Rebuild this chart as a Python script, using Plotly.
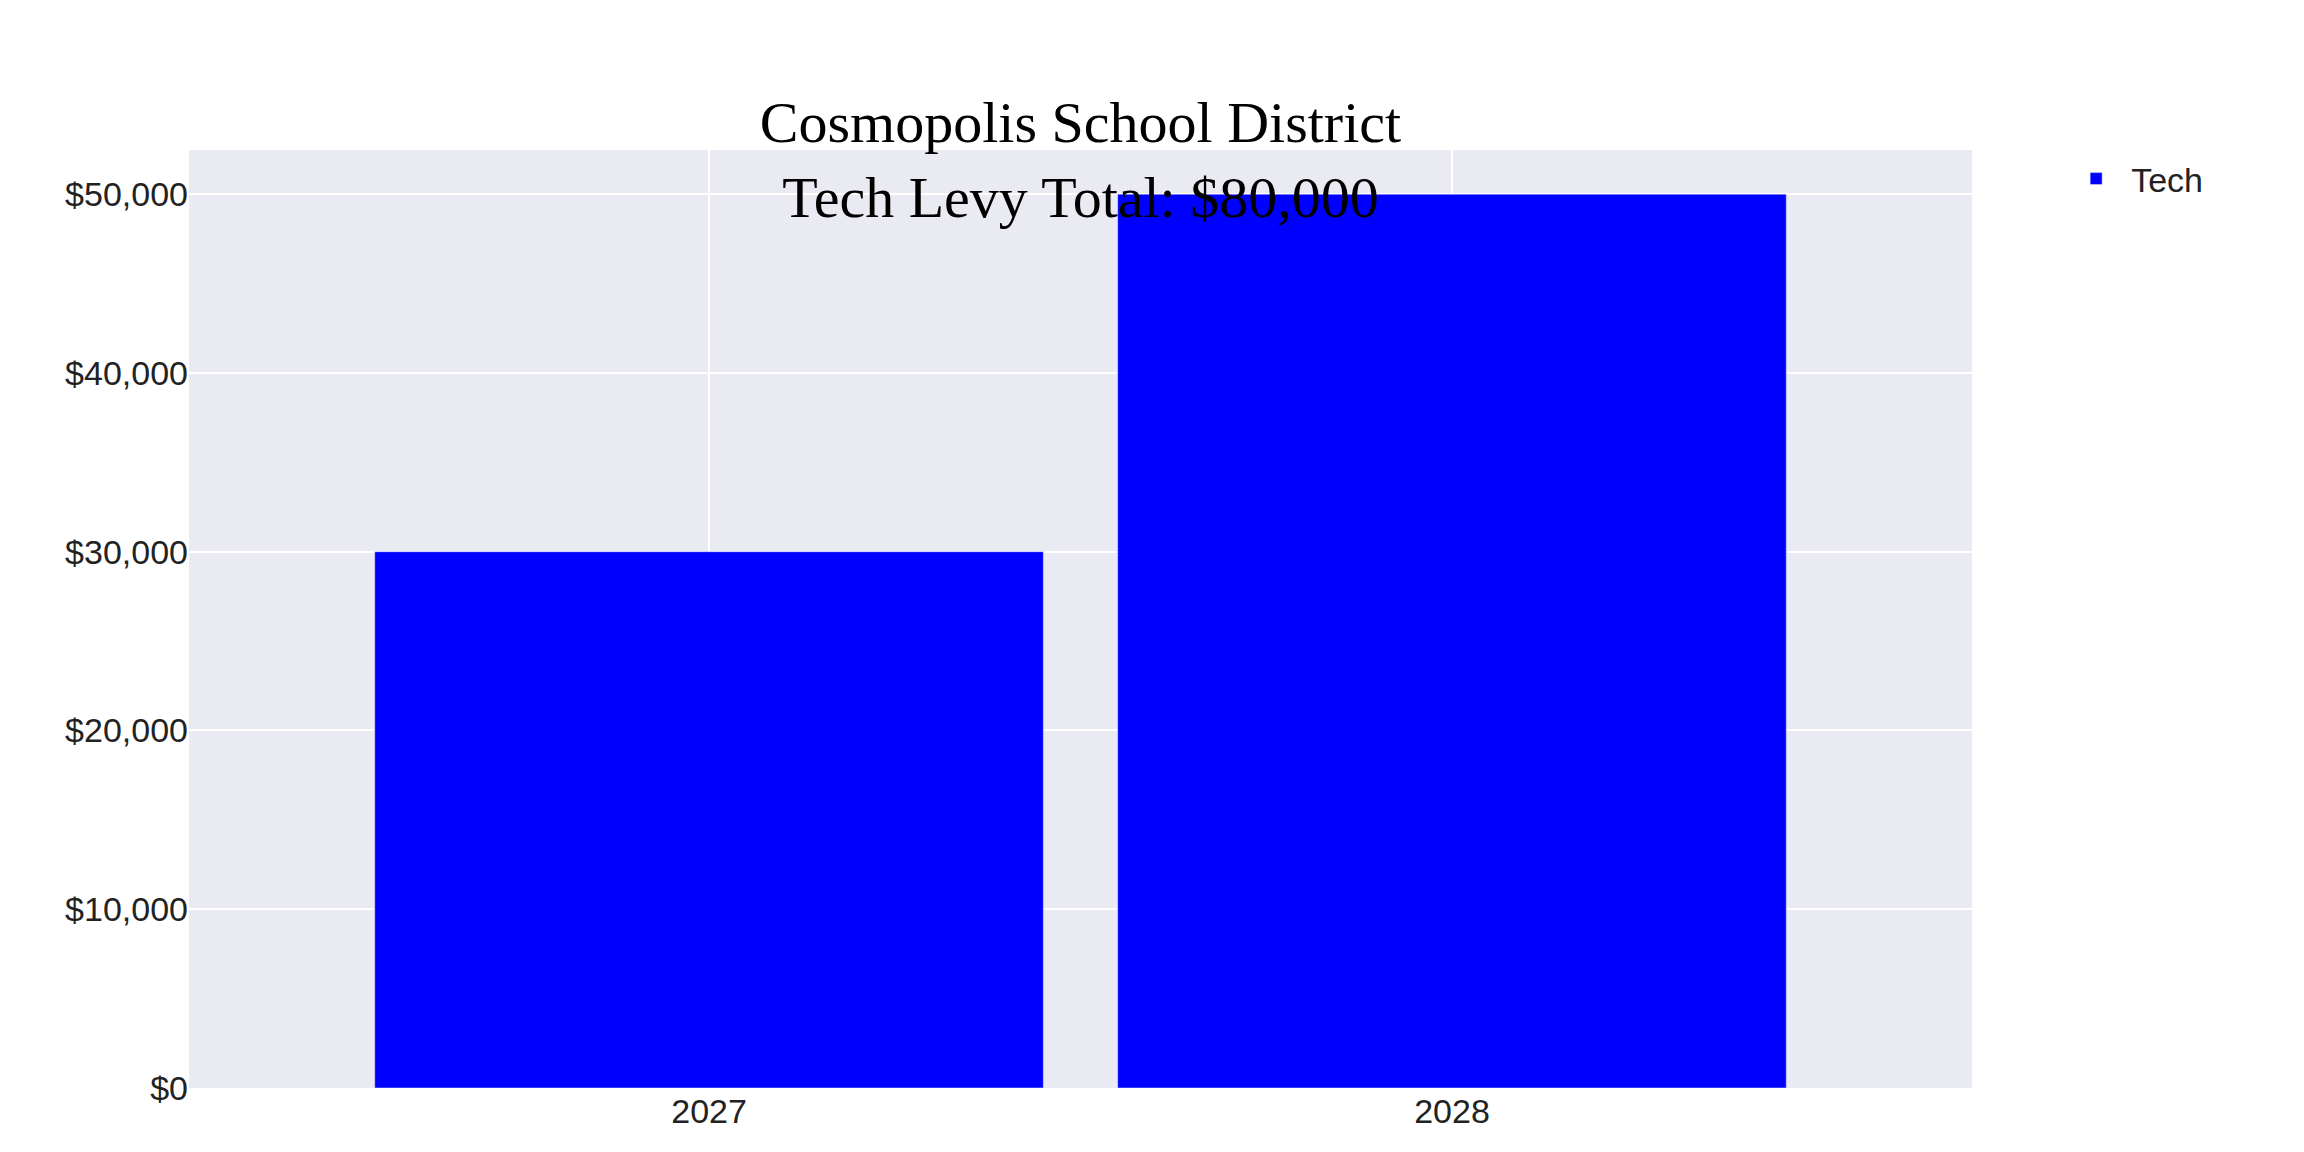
import plotly.graph_objects as go

years = ["2027", "2028"]
tech = [30000, 50000]
ytick_vals = [0, 10000, 20000, 30000, 40000, 50000]
ytick_text = ["$0", "$10,000", "$20,000", "$30,000", "$40,000", "$50,000"]

fig = go.Figure()
fig.add_trace(go.Bar(x=[0, 1], y=tech, name="Tech", marker_color="#0000FF", width=0.9))
fig.update_layout(
    width=2304, height=1152,
    paper_bgcolor="white", plot_bgcolor="#EAEAF2",
    margin=dict(l=181, r=340, t=142, b=72),
    title=dict(text="Cosmopolis School District<br>Tech Levy Total: $80,000", x=0.5, xref="paper",
               yref="paper", y=1.0, yanchor="bottom", pad=dict(b=8),
               font=dict(family="Liberation Serif, Times New Roman, serif", size=58, color="black")),
    font=dict(family="Liberation Sans, Arial, sans-serif", size=34, color="#222"),
    showlegend=True,
    legend=dict(x=1.05, y=1.0, xanchor="left", yanchor="top", font=dict(size=34), itemwidth=60),
    bargap=0.1,
)
fig.update_xaxes(tickvals=[0, 1], ticktext=years, range=[-0.7, 1.7], showgrid=True,
                 gridcolor="white", gridwidth=2, zeroline=False, ticks="")
fig.update_yaxes(range=[0, 52470], tickvals=ytick_vals, ticktext=ytick_text,
                 showgrid=True, gridcolor="white", gridwidth=2, zeroline=False, ticks="")
fig.write_html("out.html")
